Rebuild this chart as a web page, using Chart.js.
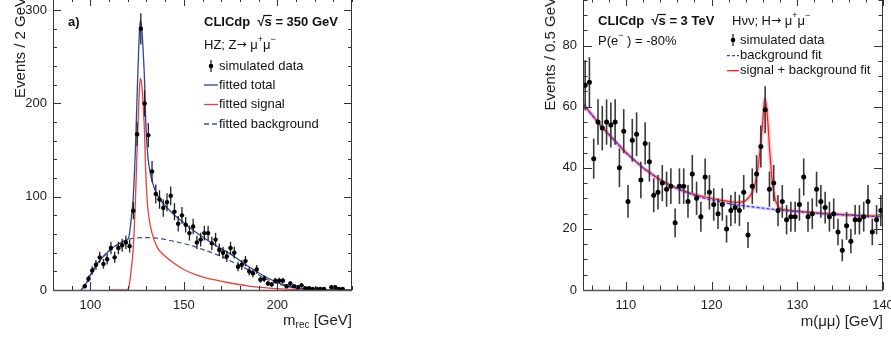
<!DOCTYPE html>
<html>
<head>
<meta charset="utf-8">
<script src="https://cdn.jsdelivr.net/npm/chart.js@4.4.1/dist/chart.umd.min.js"></script>
<style>
  html, body { margin: 0; padding: 0; background: #fff; }
  #wrap { position: relative; width: 891px; height: 338px; overflow: hidden; }
  canvas { position: absolute; top: -20px; }
  #left { left: 0; }
  #right { left: 530px; }
</style>
</head>
<body>
<div id="wrap">
  <canvas id="left" width="380" height="358"></canvas>
  <canvas id="right" width="380" height="358"></canvas>
</div>
<script>
// ---- a) HZ, Z -> mu mu, recoil mass, 2 GeV bins ----
const hzMass = [97, 99, 101, 103, 105, 107, 109, 111, 113, 115, 117, 119, 121, 123, 125, 127, 129, 131, 133, 135,
  137, 139, 141, 143, 145, 147, 149, 151, 153, 155, 157, 159, 161, 163, 165, 167, 169, 171, 173, 175,
  177, 179, 181, 183, 185, 187, 189, 191, 193, 195, 197, 199, 201, 203, 205, 207, 209, 211, 213, 215,
  217, 219, 221, 223, 225, 229, 231, 233, 235];
const hzEvents = [4, 12, 21, 27, 35, 28, 33, 45, 35, 45, 48, 51, 47, 85, 167, 280, 200, 166, 127, 103,
  97, 88, 94, 101, 84, 71, 80, 70, 61, 68, 51, 54, 61, 61, 50, 54, 43, 40, 36, 45,
  40, 25, 27, 31, 20, 18, 22, 11, 12, 7, 6, 10, 10, 10, 4, 7, 4, 3, 5, 2,
  2, 1, 1, 1, 1, 3, 3, 1, 1];

// fitted curves
const totalX = [95, 96, 98, 100, 102, 104, 106, 108, 110, 112, 114, 116, 118, 119, 120.5, 121.4, 122.2, 122.9, 124.1, 125,
  126, 126.7, 127.5, 128.2, 129, 129.5, 130.4, 131.3, 133, 135.7, 139.3, 144.6, 150, 157, 166, 175, 184, 193, 202, 212, 225, 240];
const totalY = [0, 2, 8, 16, 23, 29, 34, 38, 42, 45.5, 48, 50.5, 52.5, 53, 56, 68, 83, 98, 151, 208,
  266, 289, 280, 258, 224, 188, 152, 134, 117, 102, 92, 81, 72, 61, 49, 38.5, 26, 15, 6.5, 1.8, 0.2, 0];
const signalX = [110, 119, 120.5, 121.4, 122.2, 122.9, 124.1, 125, 126, 126.7, 127.5, 128.2, 129, 129.5, 130.4, 131.3, 133,
  135.7, 139.3, 144.6, 150, 157, 166, 175, 184, 193, 202, 212, 225, 240];
const signalY = [0, 0, 2, 14, 28, 43, 96, 150, 205, 227, 220, 200, 168, 132, 96, 78, 61,
  46, 37.5, 29, 22, 16, 11, 7.5, 4.5, 2.5, 1.2, 0.4, 0, 0];
const bkgX = [95, 96, 98, 100, 102, 104, 106, 108, 110, 112, 114, 116, 118, 120, 122, 125, 128, 131, 134, 138,
  142, 146, 150, 155, 160, 165, 170, 175, 180, 185, 190, 195, 200, 205, 210, 215, 220, 230, 240];
const bkgY = [0, 2, 8, 16, 23, 29, 34, 38, 42, 45.5, 48, 50.5, 52.5, 54, 55, 55.8, 56.2, 56.2, 55.8, 54.8,
  53.3, 51.6, 49.8, 47, 43.5, 40, 36, 31, 26.5, 21, 16, 11, 7, 4, 2, 1, 0.4, 0.1, 0];
const hzXTicks = [100, 150, 200];
const hzYTicks = [0, 100, 200, 300];

// ---- Hvv, H -> mu mu, 0.5 GeV bins ----
const mmMass = [105.25, 105.75, 106.25, 106.75, 107.25, 107.75, 108.25, 108.75, 109.25, 109.75,
  110.25, 110.75, 111.25, 111.75, 112.25, 112.75, 113.25, 113.75, 114.25, 114.75,
  115.25, 115.75, 116.25, 116.75, 117.25, 117.75, 118.25, 118.75, 119.25, 119.75,
  120.25, 120.75, 121.25, 121.75, 122.25, 122.75, 123.25, 123.75, 124.25, 124.75,
  125.25, 125.75, 126.25, 126.75, 127.25, 127.75, 128.25, 128.75, 129.25, 129.75,
  130.25, 130.75, 131.25, 131.75, 132.25, 132.75, 133.25, 133.75, 134.25, 134.75,
  135.25, 135.75, 136.25, 136.75, 137.25, 137.75, 138.25, 138.75, 139.25, 139.75];
const mmEvents = [67, 68, 43, 55, 53, 55, 54, 55, 40, 52,
  29, 49, 51, 36, 48, 42, 31, 32, 35, 33,
  34, 22, 34, 34, 29, 38, 30, 24, 37, 32,
  28, 25, 28, 20, 26, 27, 26, 32, 18, 34,
  38, 47, 59, 33, 35, 26, 29, 23, 24, 24,
  28, 37, 24, 25, 33, 29, 27, 24, 25, 19,
  13, 21, 16, 23, 23, 24, 29, 19, 23, 26];
const mmBkgX = [105, 106, 107, 108, 109, 110, 111, 112, 113, 114, 115, 116, 117, 118, 119, 120,
  122, 124, 126, 128, 130, 132, 134, 136, 138, 140];
const mmBkgY = [61, 57.5, 54, 51, 48, 45, 42.5, 40, 38, 36, 34.5, 33.2, 32, 31, 30.2, 29.5,
  28.3, 27.5, 26.8, 26.2, 25.7, 25.2, 24.8, 24.5, 24.2, 24];
const mmFitX = [105, 106, 107, 108, 109, 110, 111, 112, 113, 114, 115, 116, 117, 118, 119, 120, 121, 122, 123,
  123.8, 124.4, 124.9, 125.3, 125.7, 126, 126.2, 126.45, 126.8, 127.1, 127.5, 128, 129, 130, 132, 134, 136, 138, 140];
const mmFitY = [61, 57.5, 54, 51, 48, 45, 42.5, 40, 38, 36.1, 34.6, 33.3, 32.2, 31.3, 30.6, 30, 29.4, 29, 28.7,
  29, 30.5, 33, 38, 47, 56, 62.5, 59, 45, 35, 29, 26.8, 26.1, 25.8, 25.3, 24.9, 24.6, 24.3, 24.1];
const mmXTicks = [110, 120, 130, 140];
const mmYTicks = [0, 20, 40, 60, 80];

const FONT = "'Liberation Sans', Arial, Helvetica, sans-serif";
Chart.defaults.font.family = FONT;
Chart.defaults.font.size = 13;
Chart.defaults.color = '#222';

const pts = (xs, ys) => xs.map((x, i) => ({ x: x, y: ys[i] }));

// error bars (sqrt N) drawn under the data markers
const errorBars = {
  id: 'errorBars',
  beforeDatasetDraw(chart, args, o) {
    if (args.index !== 0) return;
    const { ctx, scales: { x, y } } = chart;
    ctx.save();
    ctx.strokeStyle = o.color;
    ctx.lineWidth = o.width;
    chart.data.datasets[0].data.forEach(p => {
      const e = Math.sqrt(p.y);
      const px = x.getPixelForValue(p.x);
      ctx.beginPath();
      ctx.moveTo(px, y.getPixelForValue(p.y - e));
      ctx.lineTo(px, y.getPixelForValue(p.y + e));
      if (o.half) {
        const py = y.getPixelForValue(p.y);
        ctx.moveTo(x.getPixelForValue(p.x - o.half), py);
        ctx.lineTo(x.getPixelForValue(p.x + o.half), py);
      }
      ctx.stroke();
    });
    ctx.restore();
  }
};

// ROOT style frame with inward ticks
const frameTicks = {
  id: 'frameTicks',
  afterDraw(chart, args, o) {
    const { ctx, chartArea: a, scales: { x, y } } = chart;
    ctx.save();
    ctx.strokeStyle = '#333';
    ctx.lineWidth = 1;
    ctx.strokeRect(a.left + 0.5, a.top + 0.5, a.right - a.left - 1, a.bottom - a.top);
    ctx.beginPath();
    for (let v = o.xStart; v <= x.max + 1e-6; v += o.xMinor) {
      const px = Math.round(x.getPixelForValue(v)) + 0.5;
      const len = Math.abs(v % o.xMajor) < 1e-6 ? o.xLen : o.minLen;
      ctx.moveTo(px, a.bottom); ctx.lineTo(px, a.bottom - len);
      ctx.moveTo(px, a.top); ctx.lineTo(px, a.top + len);
    }
    for (let v = 0; v <= y.max + 1e-6; v += o.yMinor) {
      const py = Math.round(y.getPixelForValue(v)) + 0.5;
      const len = Math.abs(v % o.yMajor) < 1e-6 ? o.yLen : o.minLen;
      ctx.moveTo(a.left, py); ctx.lineTo(a.left + len, py);
      ctx.moveTo(a.right, py); ctx.lineTo(a.right - len, py);
    }
    ctx.stroke();
    ctx.lineWidth = 1.6;
    ctx.strokeStyle = '#555';
    ctx.beginPath();
    ctx.moveTo(a.left, a.bottom + 0.5); ctx.lineTo(a.right, a.bottom + 0.5);
    ctx.stroke();
    ctx.restore();
  }
};

const fontOf = p => (p.b ? 'bold ' : '') + (p.s || 13) + 'px ' + (p.f || FONT);

function drawRich(ctx, x, y, parts, align) {
  let w = 0;
  parts.forEach(p => { ctx.font = fontOf(p); p.w = ctx.measureText(p.t).width; w += p.w; });
  let cx = align === 'right' ? x - w : x;
  parts.forEach(p => {
    ctx.font = fontOf(p);
    ctx.fillText(p.t, cx, y + (p.dy || 0));
    if (p.over) {
      ctx.save();
      ctx.lineWidth = 1.2;
      ctx.beginPath();
      ctx.moveTo(cx - 1, y - 6.5); ctx.lineTo(cx + p.w, y - 6.5);
      ctx.stroke();
      ctx.restore();
    }
    cx += p.w;
  });
}

function yTitle(ctx, text) {
  ctx.save();
  ctx.translate(25, 17);
  ctx.rotate(-Math.PI / 2);
  ctx.font = '15px ' + FONT;
  ctx.textAlign = 'right';
  ctx.textBaseline = 'alphabetic';
  ctx.fillStyle = '#222';
  ctx.fillText(text, 0, 0);
  ctx.restore();
}

function legendLine(ctx, x0, x1, y, color, dash, width) {
  ctx.save();
  ctx.strokeStyle = color;
  ctx.lineWidth = width || 1.3;
  ctx.setLineDash(dash || []);
  ctx.beginPath();
  ctx.moveTo(x0, y); ctx.lineTo(x1, y);
  ctx.stroke();
  ctx.restore();
}

function legendMarker(ctx, x, y) {
  ctx.save();
  ctx.strokeStyle = '#222';
  ctx.lineWidth = 1.3;
  ctx.beginPath();
  ctx.moveTo(x, y - 6); ctx.lineTo(x, y + 6);
  ctx.stroke();
  ctx.fillStyle = '#000';
  ctx.beginPath();
  ctx.arc(x, y, 2.3, 0, Math.PI * 2);
  ctx.fill();
  ctx.restore();
}

const ARROW = { t: '\u2192 ', s: 12, f: "'DejaVu Sans', sans-serif" };

const hzText = {
  id: 'hzText',
  afterDraw(chart) {
    const ctx = chart.ctx;
    ctx.save();
    ctx.fillStyle = '#111';
    ctx.strokeStyle = '#111';
    ctx.textBaseline = 'middle';
    drawRich(ctx, 68, 42, [{ t: 'a)', b: 1 }]);
    drawRich(ctx, 204, 42, [{ t: 'CLICdp  ', b: 1 }, { t: '\u221A', b: 1 }, { t: 's', b: 1, over: 1 }, { t: ' = 350 GeV', b: 1 }]);
    drawRich(ctx, 204, 65, [{ t: 'HZ; Z' }, ARROW, { t: '\u03BC' }, { t: '+', s: 9, dy: -5 }, { t: '\u03BC' }, { t: '\u2212', s: 9, dy: -5 }]);
    legendMarker(ctx, 211, 86);
    drawRich(ctx, 219, 86, [{ t: 'simulated data' }]);
    legendLine(ctx, 204, 218, 105, '#2b4699');
    drawRich(ctx, 219, 105, [{ t: 'fitted total' }]);
    legendLine(ctx, 204, 218, 124.5, '#e8403a');
    drawRich(ctx, 219, 124.5, [{ t: 'fitted signal' }]);
    legendLine(ctx, 204, 218, 144, '#3b4f9a', [5, 3]);
    drawRich(ctx, 219, 144, [{ t: 'fitted background' }]);
    ctx.textBaseline = 'alphabetic';
    ctx.fillStyle = '#222';
    drawRich(ctx, 352, 345, [{ t: 'm', s: 15 }, { t: 'rec', s: 10, dy: 3 }, { t: ' [GeV]', s: 15 }], 'right');
    yTitle(ctx, 'Events / 2 GeV');
    ctx.restore();
  }
};

const mmText = {
  id: 'mmText',
  afterDraw(chart) {
    const ctx = chart.ctx;
    ctx.save();
    ctx.fillStyle = '#111';
    ctx.strokeStyle = '#111';
    ctx.textBaseline = 'middle';
    drawRich(ctx, 68, 41, [{ t: 'CLICdp  ', b: 1 }, { t: '\u221A', b: 1 }, { t: 's', b: 1, over: 1 }, { t: ' = 3 TeV', b: 1 }]);
    drawRich(ctx, 202, 41, [{ t: 'H\u03BD\u03BD; H' }, ARROW, { t: '\u03BC' }, { t: '+', s: 9, dy: -5 }, { t: '\u03BC' }, { t: '\u2212', s: 9, dy: -5 }]);
    drawRich(ctx, 68, 61, [{ t: 'P(e' }, { t: '\u2212', s: 9, dy: -5 }, { t: ' ) = -80%' }]);
    legendMarker(ctx, 203, 60);
    drawRich(ctx, 210, 60, [{ t: 'simulated data' }]);
    legendLine(ctx, 197, 209, 75.7, '#3a3aff', [3, 2]);
    drawRich(ctx, 210, 75.7, [{ t: 'background fit' }]);
    legendLine(ctx, 197, 209, 90.7, '#ff1a1a');
    drawRich(ctx, 210, 90.7, [{ t: 'signal + background fit' }]);
    ctx.textBaseline = 'alphabetic';
    ctx.fillStyle = '#222';
    drawRich(ctx, 353, 346, [{ t: 'm(\u03BC\u03BC) [GeV]', s: 15 }], 'right');
    yTitle(ctx, 'Events / 0.5 GeV');
    ctx.restore();
  }
};

function axes(xmin, xmax, ymax, xTicks, yTicks) {
  return {
    x: {
      type: 'linear', min: xmin, max: xmax,
      grid: { display: false, drawTicks: false }, border: { display: false },
      ticks: { padding: 8, color: '#222' },
      afterBuildTicks: s => { s.ticks = xTicks.map(v => ({ value: v })); },
      afterFit: s => { s.height = 48; }
    },
    y: {
      type: 'linear', min: 0, max: ymax,
      grid: { display: false, drawTicks: false }, border: { display: false },
      ticks: { padding: 6, color: '#222' },
      afterBuildTicks: s => { s.ticks = yTicks.map(v => ({ value: v })); },
      afterFit: s => { s.width = 53; }
    }
  };
}

const curve = (data, color, width, dash) => ({
  data: data, showLine: true, pointRadius: 0, borderColor: color, borderWidth: width,
  borderDash: dash || [], fill: false, tension: 0.4, cubicInterpolationMode: 'monotone'
});

new Chart(document.getElementById('left'), {
  type: 'scatter',
  data: {
    datasets: [
      { data: pts(hzMass, hzEvents), pointRadius: 2.2, pointBackgroundColor: '#000', pointBorderWidth: 0 },
      curve(pts(totalX, totalY), '#2b4699', 1.3),
      curve(pts(signalX, signalY), '#e8403a', 1.3),
      curve(pts(bkgX, bkgY), '#3b4f9a', 1.2, [5, 3])
    ]
  },
  options: {
    responsive: false, animation: false, devicePixelRatio: 1,
    layout: { padding: { top: 18, right: 28, bottom: 0, left: 0 } },
    scales: axes(80, 240, 313, hzXTicks, hzYTicks),
    plugins: {
      legend: { display: false }, tooltip: { enabled: false },
      errorBars: { color: '#222', width: 1.3, half: 1 },
      frameTicks: { xStart: 80, xMinor: 10, xMajor: 50, xLen: 8, yMinor: 20, yMajor: 100, yLen: 8, minLen: 4 }
    }
  },
  plugins: [errorBars, frameTicks, hzText]
});

new Chart(document.getElementById('right'), {
  type: 'scatter',
  data: {
    datasets: [
      { data: pts(mmMass, mmEvents), pointRadius: 2.5, pointBackgroundColor: '#000', pointBorderWidth: 0 },
      curve(pts(mmBkgX, mmBkgY), '#3a3aff', 1.3, [3, 2]),
      curve(pts(mmFitX, mmFitY), '#ff1a1a', 1.2),
      curve(pts(mmFitX, mmFitY), 'rgba(255,120,140,0.4)', 4),
      curve(pts(mmBkgX, mmBkgY), 'rgba(130,140,255,0.3)', 3.5)
    ]
  },
  options: {
    responsive: false, animation: false, devicePixelRatio: 1,
    layout: { padding: { top: 18, right: 27, bottom: 0, left: 0 } },
    scales: axes(105, 140, 95.6, mmXTicks, mmYTicks),
    plugins: {
      legend: { display: false }, tooltip: { enabled: false },
      errorBars: { color: '#3a3a3a', width: 1.6, half: 0 },
      frameTicks: { xStart: 106, xMinor: 2, xMajor: 10, xLen: 8, yMinor: 5, yMajor: 20, yLen: 9, minLen: 4.5 }
    }
  },
  plugins: [errorBars, frameTicks, mmText]
});
</script>
</body>
</html>
